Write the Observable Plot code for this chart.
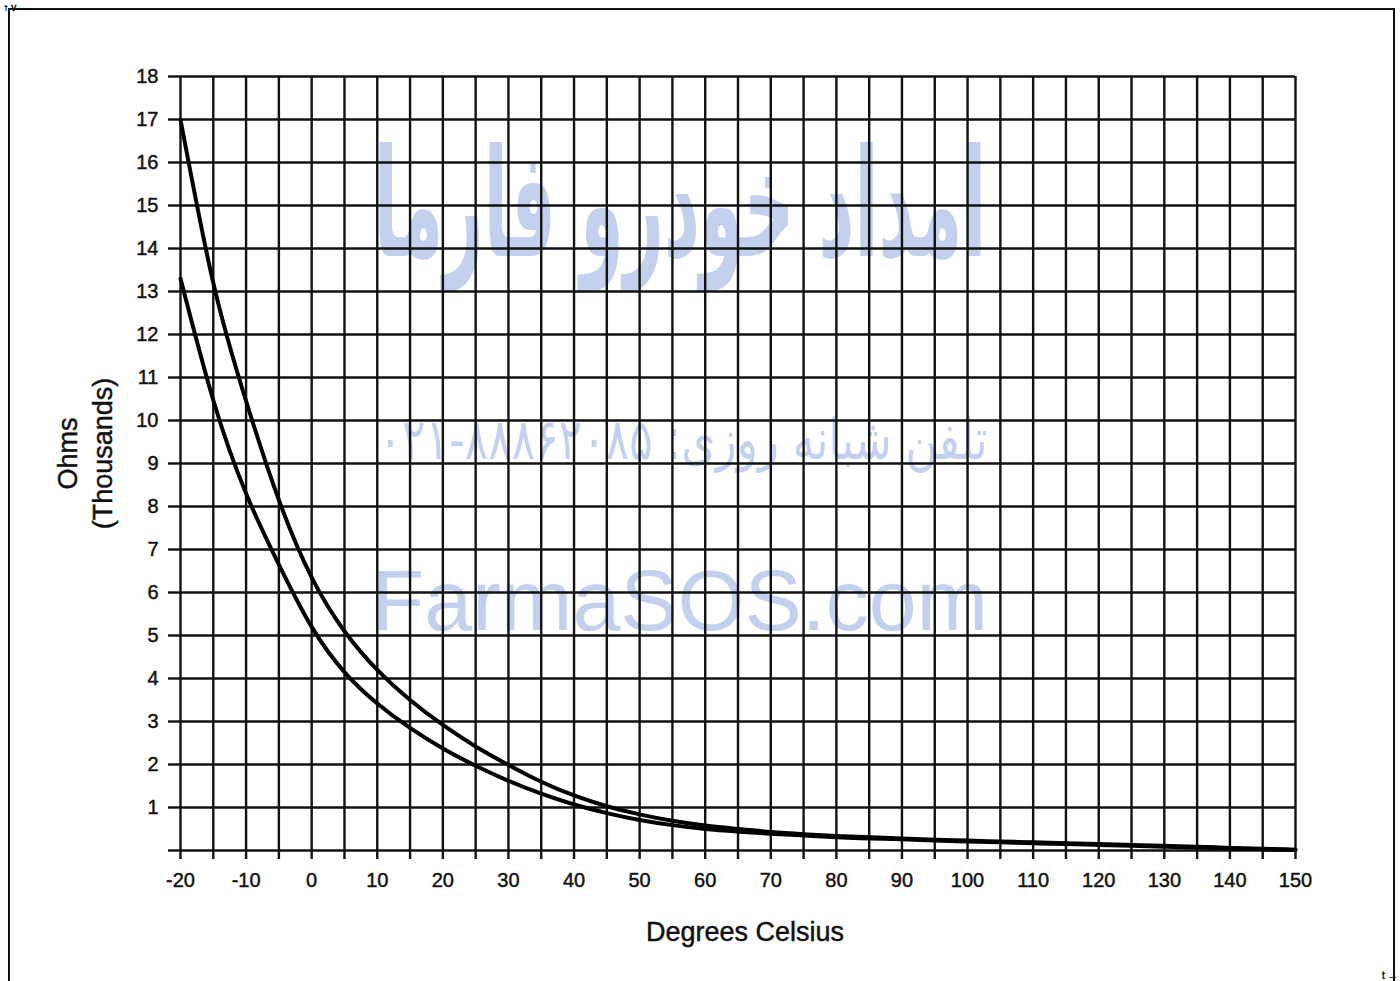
<!DOCTYPE html>
<html>
<head>
<meta charset="utf-8">
<script src="https://cdn.jsdelivr.net/npm/d3@7"></script>
<script src="https://cdn.jsdelivr.net/npm/@observablehq/plot@0.6"></script>
<style>
  html, body { margin: 0; padding: 0; background: #fff; }
  body { width: 1400px; height: 981px; overflow: hidden; position: relative; font-family: "Liberation Sans", Arial, sans-serif; }
  #frame { position: absolute; left: 8px; top: 8px; width: 1387px; height: 1000px; border: 2px solid #111; box-sizing: border-box; }
  #chart { position: absolute; left: 0; top: 0; }
  #chart svg text { stroke: #111; stroke-width: 0.45px; }
  .wm { position: absolute; left: 680px; white-space: nowrap; line-height: 1; color: #c3d0ee; transform-origin: 50% 50%; }
  #wm1 { top: 205px; font-family: "DejaVu Sans", sans-serif; font-weight: bold; font-size: 100px; transform: translate(-50%, -50%) scale(0.70, 1.5); }
  #wm2 { top: 440px; left: 683px; font-family: "DejaVu Sans", sans-serif; font-size: 54px; transform: translate(-50%, -50%) scale(0.81, 1.05); }
  #wm3 { top: 600px; font-family: "Liberation Sans", Arial, sans-serif; font-size: 86px; transform: translate(-50%, -50%); }
</style>
</head>
<body>
<div id="frame"></div>
<div id="wm1" class="wm" dir="rtl"></div>
<div id="wm2" class="wm" dir="rtl"></div>
<div id="wm3" class="wm"></div>
<div id="chart"></div>
<script>
// Temperature (°C)
const temps = [-20,-15,-10,-5,0,5,10,15,20,25,30,35,40,45,50,55,60,65,70,75,80,85,90,95,100,105,110,115,120,125,130,135,140,145,150];
// Upper curve: resistance in thousands of ohms
const upperOhms = [17.0,13.2,10.45,8.15,6.35,5.1,4.2,3.5,2.92,2.42,1.99,1.6,1.28,1.03,0.84,0.69,0.58,0.5,0.43,0.38,0.34,0.31,0.28,0.25,0.23,0.21,0.19,0.17,0.15,0.13,0.11,0.09,0.06,0.04,0.02];
// Lower curve: resistance in thousands of ohms
const lowerOhms = [13.3,10.47,8.3,6.65,5.2,4.15,3.42,2.85,2.37,1.97,1.62,1.32,1.07,0.87,0.71,0.59,0.5,0.44,0.39,0.35,0.31,0.28,0.26,0.23,0.21,0.19,0.17,0.15,0.13,0.11,0.09,0.07,0.05,0.03,0.01];
// Axis ticks
const xGridTicks = d3.range(-20, 151, 5);
const xLabelTicks = [-20,-10,0,10,20,30,40,50,60,70,80,90,100,110,120,130,140,150];
const yGridTicks = d3.range(0, 19, 1);
const yLabelTicks = [1,2,3,4,5,6,7,8,9,10,11,12,13,14,15,16,17,18];
// Text
const xTitle = "Degrees Celsius";
const yTitle = "Ohms\n(Thousands)";
const watermark1 = "امداد خودرو فارما";
const watermark2 = "تلفن شبانه روزی: \u2066۰۲۱-۸۸۸۶۲۰۸۵\u2069";
const watermark3 = "FarmaSOS.com";

document.getElementById("wm1").textContent = watermark1;
document.getElementById("wm2").textContent = watermark2;
document.getElementById("wm3").textContent = watermark3;

const rows = [];
temps.forEach((t, i) => {
  rows.push({t, v: upperOhms[i], s: "upper"});
  rows.push({t, v: lowerOhms[i], s: "lower"});
});

const chart = Plot.plot({
  width: 1400,
  height: 981,
  marginLeft: 180,
  marginRight: 105,
  marginTop: 76,
  marginBottom: 131,
  style: {background: "transparent", fontFamily: "'Liberation Sans', Arial, sans-serif", color: "#111"},
  x: {domain: [-20, 150]},
  y: {domain: [0, 18]},
  marks: [
    Plot.gridX(xGridTicks, {stroke: "#111", strokeOpacity: 1, strokeWidth: 2.4}),
    Plot.gridY(yGridTicks, {stroke: "#111", strokeOpacity: 1, strokeWidth: 2.4}),
    Plot.axisX(xGridTicks, {tickSize: 9, stroke: "#111", strokeWidth: 2.4, text: null}),
    Plot.axisX(xLabelTicks, {tickSize: 0, tickPadding: 22, fontSize: 20, label: null, tickFormat: d => String(d)}),
    Plot.axisY(yGridTicks, {tickSize: 12, stroke: "#111", strokeWidth: 2.4, text: null}),
    Plot.axisY(yLabelTicks, {tickSize: 0, tickPadding: 22, fontSize: 20, label: null, tickFormat: d => String(d)}),
    Plot.line(rows, {x: "t", y: "v", z: "s", stroke: "#000", strokeWidth: 4, curve: "natural"}),
    Plot.text([xTitle], {frameAnchor: "bottom", dy: 90, dx: 7, text: d => d, fontSize: 27, fill: "#111"}),
    Plot.text([yTitle], {frameAnchor: "left", textAnchor: "middle", dx: -97, dy: -10, rotate: -90, text: d => d, fontSize: 27, fill: "#111", lineHeight: 1.3})
  ]
});
document.getElementById("chart").appendChild(chart);
</script>
</body>
</html>
